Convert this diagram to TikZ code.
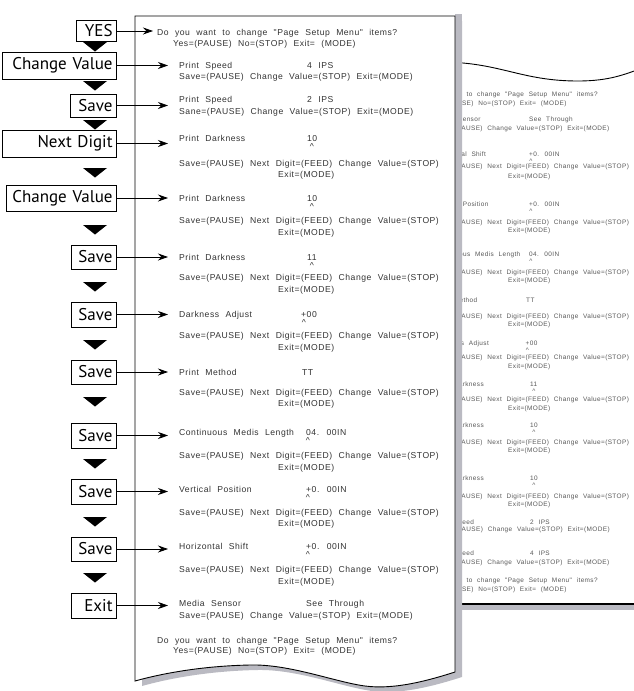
\documentclass[tikz,border=0pt]{standalone}
\usepackage{fontspec}
\usetikzlibrary{arrows.meta}
\newfontfamily\lcdfont[LetterSpace=6,WordSpace=2.2]{Liberation Sans}
\newfontfamily\keyfont{PT Sans}
\definecolor{papershade}{RGB}{186,186,194}

\tikzset{
  scr/.style={font=\lcdfont\fontsize{8.6}{9}\selectfont, text=black!80, inner sep=0pt, anchor=base west},
  scrs/.style={font=\lcdfont\fontsize{6.45}{7}\selectfont, text=black!65, inner sep=0pt, anchor=base west},
  key/.style 2 args={draw, line width=0.9pt, font=\keyfont\fontsize{17}{17}\selectfont, anchor=east,
    text width=#1, minimum height=#2, align=right, inner xsep=4pt, inner ysep=0pt},
  arr/.style={-{Stealth[length=10pt,width=7pt]}, line width=0.8pt},
}

\begin{document}
\begin{tikzpicture}[x=1pt, y=-1pt]
    \clip (0,0) rectangle (634,691);

    % Second sheet, behind
    \fill[white] (440,62) .. controls (500,62) and (520,81) .. (578,81) .. controls (610,81) and (625,74) .. (640,69) -- (640,604) -- (440,604) -- cycle;
    \fill[papershade] (440,604) rectangle (640,610);
    \draw[line width=0.9pt] (440,62) .. controls (500,62) and (520,81) .. (578,81) .. controls (610,81) and (625,74) .. (640,69);
    \draw[line width=1.2pt] (440,604) -- (640,604);

    \node[scrs] (q1) at (417.5,96.3) {Do you want to change "Page Setup Menu" items?};
    \node[scrs] (q2) at (429.5,105.3) {Yes=(PAUSE) No=(STOP) Exit= (MODE)};
    \node[scrs] (q3) at (434,121.3) {Media Sensor};
    \node[scrs] (qv3) at (529,121.3) {See Through};
    \node[scrs] (q4) at (434,130.3) {Save=(PAUSE) Change Value=(STOP) Exit=(MODE)};
    \node[scrs] (q5) at (434,156.3) {Horizontal Shift};
    \node[scrs] (qv5) at (529,156.3) {+0. 00IN};
    \node[scrs, anchor=base] (qc5) at (531,163) {\textasciicircum};
    \node[scrs] (q6) at (434,168.3) {Save=(PAUSE) Next Digit=(FEED) Change Value=(STOP)};
    \node[scrs] (qx6) at (508,178.3) {Exit=(MODE)};
    \node[scrs] (q7) at (434,206.3) {Vertical Position};
    \node[scrs] (qv7) at (529,206.3) {+0. 00IN};
    \node[scrs, anchor=base] (qc7) at (531,213) {\textasciicircum};
    \node[scrs] (q8) at (434,224.3) {Save=(PAUSE) Next Digit=(FEED) Change Value=(STOP)};
    \node[scrs] (qx8) at (508,232.3) {Exit=(MODE)};
    \node[scrs] (q9) at (434,256.3) {Continuous Medis Length};
    \node[scrs] (qv9) at (529,256.3) {04. 00IN};
    \node[scrs, anchor=base] (qc9) at (531,263) {\textasciicircum};
    \node[scrs] (q10) at (434,274.3) {Save=(PAUSE) Next Digit=(FEED) Change Value=(STOP)};
    \node[scrs] (qx10) at (508,282.3) {Exit=(MODE)};
    \node[scrs] (q11) at (434,302.3) {Print Method};
    \node[scrs] (qv11) at (526,302.3) {TT};
    \node[scrs] (q12) at (434,318.3) {Save=(PAUSE) Next Digit=(FEED) Change Value=(STOP)};
    \node[scrs] (qx12) at (508,326.3) {Exit=(MODE)};
    \node[scrs] (q13) at (434,345.3) {Darkness Adjust};
    \node[scrs] (qv13) at (525.5,345.3) {+00};
    \node[scrs, anchor=base] (qc13) at (527.5,352) {\textasciicircum};
    \node[scrs] (q14) at (434,359.3) {Save=(PAUSE) Next Digit=(FEED) Change Value=(STOP)};
    \node[scrs] (qx14) at (508,368.3) {Exit=(MODE)};
    \node[scrs] (q15) at (434,386.3) {Print Darkness};
    \node[scrs] (qv15) at (530,386.3) {11};
    \node[scrs, anchor=base] (qc15) at (534,393) {\textasciicircum};
    \node[scrs] (q16) at (434,401.3) {Save=(PAUSE) Next Digit=(FEED) Change Value=(STOP)};
    \node[scrs] (qx16) at (508,410.3) {Exit=(MODE)};
    \node[scrs] (q17) at (434,427.3) {Print Darkness};
    \node[scrs] (qv17) at (530,427.3) {10};
    \node[scrs, anchor=base] (qc17) at (534,434) {\textasciicircum};
    \node[scrs] (q18) at (434,444.3) {Save=(PAUSE) Next Digit=(FEED) Change Value=(STOP)};
    \node[scrs] (qx18) at (508,452.3) {Exit=(MODE)};
    \node[scrs] (q19) at (434,480.3) {Print Darkness};
    \node[scrs] (qv19) at (530,480.3) {10};
    \node[scrs, anchor=base] (qc19) at (534,487) {\textasciicircum};
    \node[scrs] (q20) at (434,498.3) {Save=(PAUSE) Next Digit=(FEED) Change Value=(STOP)};
    \node[scrs] (qx20) at (508,506.3) {Exit=(MODE)};
    \node[scrs] (q21) at (434,524.3) {Print Speed};
    \node[scrs] (qv21) at (530,524.3) {2 IPS};
    \node[scrs] (q22) at (434,531.3) {Sane=(PAUSE) Change Value=(STOP) Exit=(MODE)};
    \node[scrs] (q23) at (434,555.3) {Print Speed};
    \node[scrs] (qv23) at (530,555.3) {4 IPS};
    \node[scrs] (q24) at (434,564.3) {Save=(PAUSE) Change Value=(STOP) Exit=(MODE)};
    \node[scrs] (q25) at (417.5,582.3) {Do you want to change "Page Setup Menu" items?};
    \node[scrs] (q26) at (429.5,591.3) {Yes=(PAUSE) No=(STOP) Exit= (MODE)};

    % Main sheet and its shadow
    \fill[papershade] (455,14) rectangle (462,30);
    \fill[papershade, shift={(7,5)}] (135,16) -- (455,16) -- (455,672) .. controls (430,680) and (395,690) .. (365,686) .. controls (335,682) and (290,664) .. (250,665) .. controls (200,666) and (160,674) .. (135,681) -- cycle;
    \filldraw[fill=white, line width=0.9pt] (135,16) -- (455,16) -- (455,672) .. controls (430,680) and (395,690) .. (365,686) .. controls (335,682) and (290,664) .. (250,665) .. controls (200,666) and (160,674) .. (135,681) -- cycle;

    \node[scr] (m1) at (157,35) {Do you want to change "Page Setup Menu" items?};
    \node[scr] (m2) at (173,46) {Yes=(PAUSE) No=(STOP) Exit= (MODE)};
    \node[scr] (s1) at (179,68) {Print Speed};
    \node[scr] (v1) at (307,68) {4 IPS};
    \node[scr] (m3) at (179,79) {Save=(PAUSE) Change Value=(STOP) Exit=(MODE)};
    \node[scr] (s2) at (179,102) {Print Speed};
    \node[scr] (v2) at (307,102) {2 IPS};
    \node[scr] (m4) at (179,114) {Sane=(PAUSE) Change Value=(STOP) Exit=(MODE)};
    \node[scr] (s3) at (179,141) {Print Darkness};
    \node[scr] (v3) at (307,141) {10};
    \node[scr, anchor=base] (c3) at (312,149) {\textasciicircum};
    \node[scr] (n3) at (179,166) {Save=(PAUSE) Next Digit=(FEED) Change Value=(STOP)};
    \node[scr] (x3) at (278,177) {Exit=(MODE)};
    \node[scr] (s4) at (179,201) {Print Darkness};
    \node[scr] (v4) at (307,201) {10};
    \node[scr, anchor=base] (c4) at (312,209) {\textasciicircum};
    \node[scr] (n4) at (179,223) {Save=(PAUSE) Next Digit=(FEED) Change Value=(STOP)};
    \node[scr] (x4) at (278,235) {Exit=(MODE)};
    \node[scr] (s5) at (179,260) {Print Darkness};
    \node[scr] (v5) at (307,260) {11};
    \node[scr, anchor=base] (c5) at (312,268) {\textasciicircum};
    \node[scr] (n5) at (179,280) {Save=(PAUSE) Next Digit=(FEED) Change Value=(STOP)};
    \node[scr] (x5) at (278,292) {Exit=(MODE)};
    \node[scr] (s6) at (179,317) {Darkness Adjust};
    \node[scr] (v6) at (301,317) {+00};
    \node[scr, anchor=base] (c6) at (304,325) {\textasciicircum};
    \node[scr] (n6) at (179,338) {Save=(PAUSE) Next Digit=(FEED) Change Value=(STOP)};
    \node[scr] (x6) at (278,350) {Exit=(MODE)};
    \node[scr] (s7) at (179,375) {Print Method};
    \node[scr] (v7) at (302,375) {TT};
    \node[scr] (n7) at (179,395) {Save=(PAUSE) Next Digit=(FEED) Change Value=(STOP)};
    \node[scr] (x7) at (278,406) {Exit=(MODE)};
    \node[scr] (s8) at (179,435) {Continuous Medis Length};
    \node[scr] (v8) at (306,435) {04. 00IN};
    \node[scr, anchor=base] (c8) at (308,443) {\textasciicircum};
    \node[scr] (n8) at (179,458) {Save=(PAUSE) Next Digit=(FEED) Change Value=(STOP)};
    \node[scr] (x8) at (278,470) {Exit=(MODE)};
    \node[scr] (s9) at (179,492) {Vertical Position};
    \node[scr] (v9) at (306,492) {+0. 00IN};
    \node[scr, anchor=base] (c9) at (308,500) {\textasciicircum};
    \node[scr] (n9) at (179,515) {Save=(PAUSE) Next Digit=(FEED) Change Value=(STOP)};
    \node[scr] (x9) at (278,526) {Exit=(MODE)};
    \node[scr] (s10) at (179,549) {Horizontal Shift};
    \node[scr] (v10) at (306,549) {+0. 00IN};
    \node[scr, anchor=base] (c10) at (308,557) {\textasciicircum};
    \node[scr] (n10) at (179,572) {Save=(PAUSE) Next Digit=(FEED) Change Value=(STOP)};
    \node[scr] (x10) at (278,584) {Exit=(MODE)};
    \node[scr] (s11) at (179,606) {Media Sensor};
    \node[scr] (v11) at (306,606) {See Through};
    \node[scr] (m11) at (179,618) {Save=(PAUSE) Change Value=(STOP) Exit=(MODE)};
    \node[scr] (m12) at (157,643) {Do you want to change "Page Setup Menu" items?};
    \node[scr] (m13) at (173,653) {Yes=(PAUSE) No=(STOP) Exit= (MODE)};

    % Keys pressed
    \node[key={32pt}{21pt}] (bYes) at (117,31) {YES};
    \node[key={106pt}{27pt}] (bChange) at (117,65.5) {Change Value};
    \node[key={38pt}{23pt}] (bSave) at (117,105.5) {Save};
    \node[key={106pt}{27pt}] (bNext) at (117,143.5) {Next Digit};
    \node[key={102pt}{26pt}] (bChangeB) at (117,198) {Change Value};
    \node[key={37pt}{24pt}] (bSaveB) at (117,257) {Save};
    \node[key={37pt}{25pt}] (bSaveC) at (117,314.5) {Save};
    \node[key={37pt}{24pt}] (bSaveD) at (117,372) {Save};
    \node[key={37pt}{25pt}] (bSaveE) at (117,435.5) {Save};
    \node[key={37pt}{25pt}] (bSaveF) at (117,491.5) {Save};
    \node[key={37pt}{24pt}] (bSaveG) at (117,549) {Save};
    \node[key={37pt}{25pt}] (bExit) at (117,605.5) {Exit};

    % Step marks
    \foreach \ty in {42,81,120,168,225,282,340,397,459,517,573}
        \fill (83,\ty) -- (107,\ty) -- (95,\ty+9.5) -- cycle;

    % Arrows to the printout
    \draw[arr, shorten >=4pt] (bYes.east) -- (bYes.east -| m1.west);
    \draw[arr, shorten >=11pt] (bChange.east) -- (bChange.east -| s1.west);
    \draw[arr, shorten >=11pt] (bSave.east) -- (bSave.east -| s2.west);
    \draw[arr, shorten >=11pt] (bNext.east) -- (bNext.east -| s3.west);
    \draw[arr, shorten >=11pt] (bChangeB.east) -- (bChangeB.east -| s4.west);
    \draw[arr, shorten >=11pt] (bSaveB.east) -- (bSaveB.east -| s5.west);
    \draw[arr, shorten >=11pt] (bSaveC.east) -- (bSaveC.east -| s6.west);
    \draw[arr, shorten >=11pt] (bSaveD.east) -- (bSaveD.east -| s7.west);
    \draw[arr, shorten >=11pt] (bSaveE.east) -- (bSaveE.east -| s8.west);
    \draw[arr, shorten >=11pt] (bSaveF.east) -- (bSaveF.east -| s9.west);
    \draw[arr, shorten >=11pt] (bSaveG.east) -- (bSaveG.east -| s10.west);
    \draw[arr, shorten >=11pt] (bExit.east) -- (bExit.east -| s11.west);
\end{tikzpicture}
\end{document}
